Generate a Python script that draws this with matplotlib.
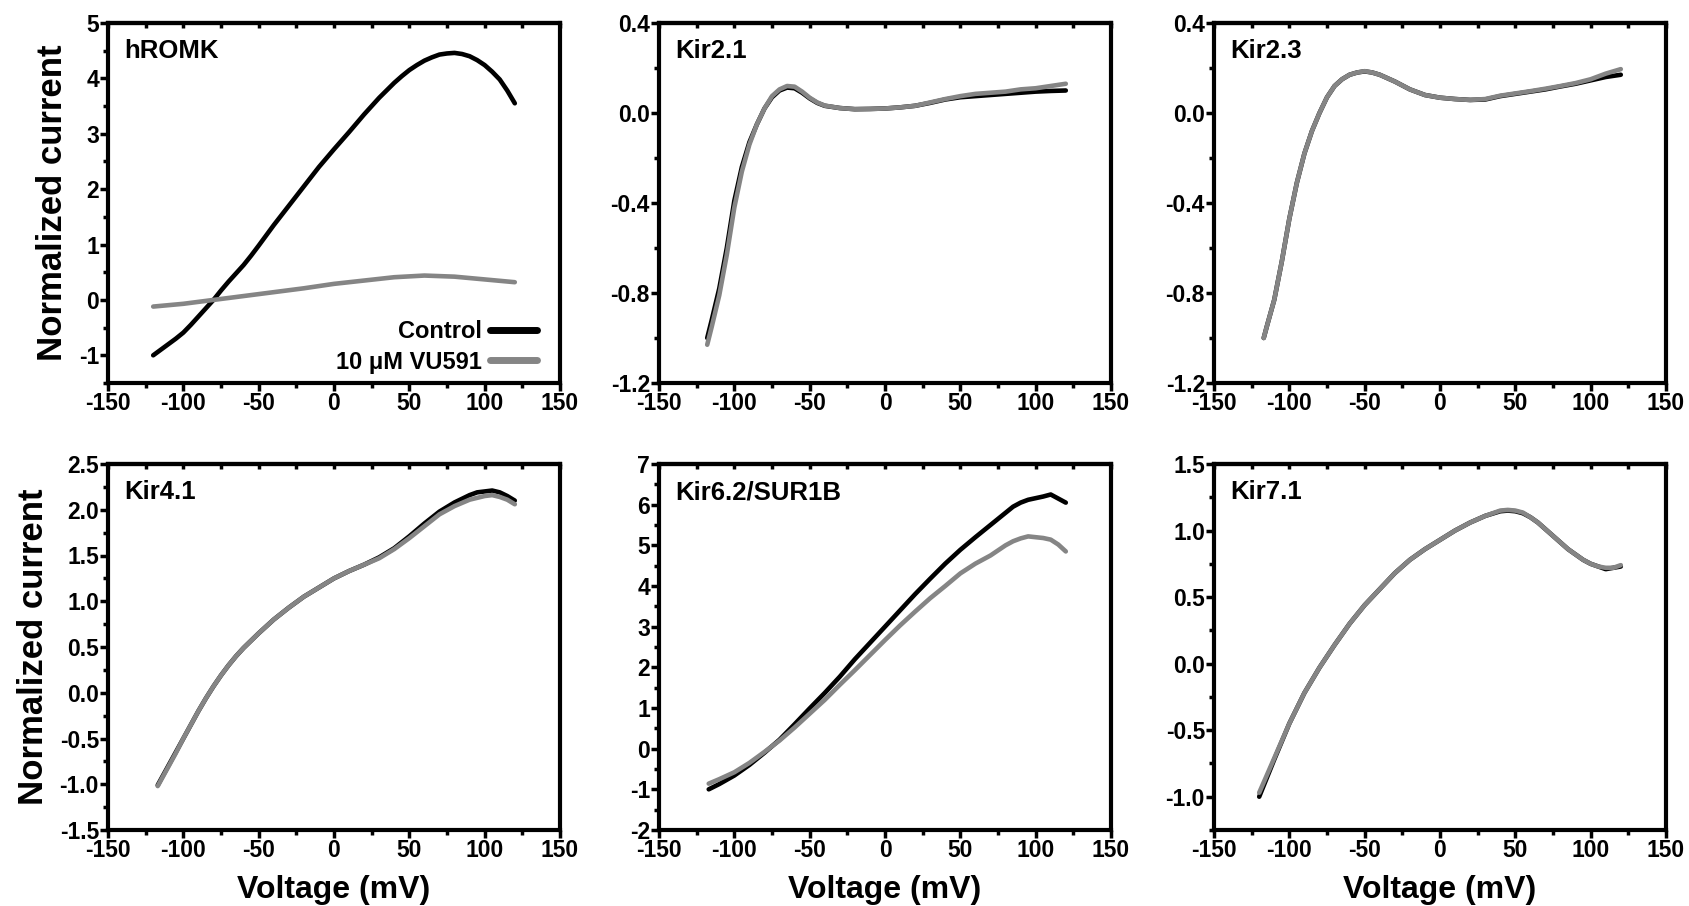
import matplotlib
matplotlib.use("Agg")
import matplotlib.pyplot as plt
from matplotlib.ticker import MultipleLocator

plt.rcParams["font.family"] = ["Liberation Sans", "DejaVu Sans"]
plt.rcParams["font.weight"] = "bold"
plt.rcParams["axes.unicode_minus"] = False

BLACK = "#000000"
GRAY = "#858585"

# hROMK
romk_v = [-120, -115, -110, -105, -100, -95, -90, -85, -80, -75, -70, -65, -60, -55, -50, -40, -30, -20, -10, 0, 10, 20, 30, 40, 45, 50, 55, 60, 65, 70, 75, 80, 85, 90, 95, 100, 105, 110, 115, 120]
romk_ctrl = [-1.0, -0.9, -0.8, -0.7, -0.59, -0.45, -0.3, -0.15, 0.0, 0.17, 0.33, 0.48, 0.63, 0.8, 0.98, 1.35, 1.7, 2.05, 2.4, 2.72, 3.03, 3.35, 3.65, 3.92, 4.04, 4.15, 4.24, 4.32, 4.38, 4.43, 4.45, 4.46, 4.44, 4.4, 4.33, 4.24, 4.12, 3.98, 3.78, 3.55]
romk_drug_v = [-120, -100, -80, -60, -40, -20, 0, 20, 40, 60, 80, 100, 120]
romk_drug = [-0.12, -0.07, 0.0, 0.07, 0.14, 0.21, 0.29, 0.35, 0.41, 0.44, 0.42, 0.37, 0.32]

# Kir2.1
k21_v = [-118, -115, -110, -105, -100, -95, -90, -85, -80, -75, -70, -65, -60, -55, -50, -45, -40, -30, -20, -10, 0, 10, 20, 30, 40, 50, 60, 70, 80, 90, 100, 110, 120]
k21_ctrl = [-1.0, -0.92, -0.78, -0.6, -0.39, -0.24, -0.13, -0.05, 0.02, 0.07, 0.1, 0.113, 0.11, 0.09, 0.065, 0.045, 0.032, 0.022, 0.017, 0.018, 0.02, 0.025, 0.032, 0.045, 0.06, 0.07, 0.075, 0.08, 0.085, 0.09, 0.095, 0.098, 0.1]
k21_drug = [-1.03, -0.95, -0.81, -0.63, -0.42, -0.26, -0.14, -0.05, 0.02, 0.075, 0.105, 0.12, 0.117, 0.095, 0.068, 0.047, 0.033, 0.022, 0.017, 0.018, 0.02, 0.025, 0.032, 0.047, 0.062, 0.075, 0.085, 0.09, 0.095, 0.105, 0.11, 0.12, 0.13]

# Kir2.3
k23_v = [-117, -115, -110, -105, -100, -95, -90, -85, -80, -75, -70, -65, -60, -55, -50, -45, -40, -30, -20, -10, 0, 10, 20, 30, 40, 50, 60, 70, 80, 90, 100, 110, 120]
k23_ctrl = [-1.0, -0.95, -0.83, -0.66, -0.47, -0.31, -0.18, -0.08, 0.0, 0.07, 0.12, 0.15, 0.17, 0.18, 0.185, 0.18, 0.17, 0.14, 0.105, 0.08, 0.068, 0.062, 0.058, 0.06, 0.075, 0.085, 0.095, 0.105, 0.118, 0.13, 0.145, 0.16, 0.17]
k23_drug = [-1.0, -0.95, -0.83, -0.66, -0.47, -0.31, -0.18, -0.08, 0.0, 0.07, 0.12, 0.15, 0.17, 0.18, 0.186, 0.18, 0.17, 0.14, 0.105, 0.08, 0.068, 0.062, 0.058, 0.062, 0.077, 0.087, 0.097, 0.108, 0.12, 0.133, 0.15, 0.175, 0.195]

# Kir4.1
k41_v = [-117, -110, -105, -100, -95, -90, -85, -80, -75, -70, -65, -60, -55, -50, -40, -30, -20, -10, 0, 10, 20, 30, 40, 50, 60, 70, 80, 90, 95, 100, 105, 110, 115, 120]
k41_ctrl = [-1.01, -0.8, -0.65, -0.5, -0.35, -0.2, -0.06, 0.07, 0.19, 0.3, 0.4, 0.49, 0.57, 0.65, 0.8, 0.93, 1.05, 1.15, 1.25, 1.33, 1.4, 1.48, 1.58, 1.71, 1.85, 1.98, 2.08, 2.16, 2.19, 2.2, 2.21, 2.19, 2.15, 2.1]
k41_drug = [-1.02, -0.81, -0.66, -0.5, -0.35, -0.2, -0.06, 0.07, 0.19, 0.3, 0.4, 0.49, 0.57, 0.65, 0.8, 0.93, 1.05, 1.15, 1.25, 1.33, 1.4, 1.47, 1.57, 1.69, 1.82, 1.95, 2.04, 2.11, 2.13, 2.15, 2.16, 2.14, 2.11, 2.06]

# Kir6.2/SUR1B
k62_v = [-117, -110, -100, -90, -80, -70, -60, -50, -40, -30, -20, -10, 0, 10, 20, 30, 40, 50, 60, 70, 80, 85, 90, 95, 100, 105, 110, 115, 120]
k62_ctrl = [-1.0, -0.87, -0.66, -0.4, -0.1, 0.22, 0.6, 0.99, 1.37, 1.77, 2.2, 2.6, 3.0, 3.4, 3.8, 4.18, 4.55, 4.89, 5.2, 5.5, 5.8, 5.95, 6.05, 6.12, 6.16, 6.2, 6.25, 6.15, 6.05]
k62_drug = [-0.86, -0.75, -0.58, -0.35, -0.08, 0.2, 0.52, 0.86, 1.2, 1.57, 1.93, 2.3, 2.67, 3.03, 3.37, 3.7, 4.0, 4.31, 4.55, 4.75, 5.0, 5.1, 5.17, 5.22, 5.2, 5.18, 5.14, 5.02, 4.85]

# Kir7.1
k71_v = [-120, -110, -100, -90, -80, -70, -60, -50, -40, -30, -20, -10, 0, 10, 20, 30, 40, 45, 50, 55, 60, 65, 70, 75, 80, 85, 90, 95, 100, 105, 110, 115, 120]
k71_ctrl = [-1.0, -0.72, -0.45, -0.22, -0.03, 0.14, 0.3, 0.44, 0.56, 0.68, 0.78, 0.86, 0.93, 1.0, 1.06, 1.11, 1.145, 1.15, 1.145, 1.13, 1.1, 1.06, 1.01, 0.96, 0.91, 0.86, 0.82, 0.78, 0.75, 0.73, 0.71, 0.72, 0.73]
k71_drug = [-0.97, -0.71, -0.45, -0.22, -0.03, 0.14, 0.3, 0.44, 0.56, 0.68, 0.78, 0.86, 0.93, 1.0, 1.06, 1.11, 1.15, 1.155, 1.15, 1.135, 1.1, 1.06, 1.01, 0.96, 0.91, 0.86, 0.82, 0.78, 0.75, 0.73, 0.72, 0.72, 0.74]

x_ticks = [-150, -100, -50, 0, 50, 100, 150]

panels = [
    ("hROMK", romk_v, romk_ctrl, romk_drug_v, romk_drug, (-1.5, 5), [-1, 0, 1, 2, 3, 4, 5], 0.5, "%d"),
    ("Kir2.1", k21_v, k21_ctrl, k21_v, k21_drug, (-1.2, 0.4), [-1.2, -0.8, -0.4, 0.0, 0.4], 0.2, "%.1f"),
    ("Kir2.3", k23_v, k23_ctrl, k23_v, k23_drug, (-1.2, 0.4), [-1.2, -0.8, -0.4, 0.0, 0.4], 0.2, "%.1f"),
    ("Kir4.1", k41_v, k41_ctrl, k41_v, k41_drug, (-1.5, 2.5), [-1.5, -1.0, -0.5, 0.0, 0.5, 1.0, 1.5, 2.0, 2.5], 0.25, "%.1f"),
    ("Kir6.2/SUR1B", k62_v, k62_ctrl, k62_v, k62_drug, (-2, 7), [-2, -1, 0, 1, 2, 3, 4, 5, 6, 7], 0.5, "%d"),
    ("Kir7.1", k71_v, k71_ctrl, k71_v, k71_drug, (-1.25, 1.5), [-1.0, -0.5, 0.0, 0.5, 1.0, 1.5], 0.25, "%.1f"),
]

W, H = 1689, 906
fig = plt.figure(figsize=(W / 100, H / 100), dpi=100)

col_left = [108, 659, 1214]
col_width = 452
row_top = [23, 464]
row_height = [360, 366]
tick_font = dict(fontsize=16.5, fontweight="bold", family="Liberation Sans")

for i, (name, xv, yc, xd, yd, ylim, yticks, minor, fmt) in enumerate(panels):
    r, c = divmod(i, 3)
    rect = [col_left[c] / W, 1 - (row_top[r] + row_height[r]) / H, col_width / W, row_height[r] / H]
    ax = fig.add_axes(rect)

    ax.plot(xv, yc, color=BLACK, lw=3.3, solid_capstyle="round", solid_joinstyle="round", label="Control")
    ax.plot(xd, yd, color=GRAY, lw=3.3, solid_capstyle="round", solid_joinstyle="round", label="10 \u03bcM VU591")

    ax.set_xlim(-150, 150)
    ax.set_ylim(*ylim)
    ax.set_xticks(x_ticks, labels=[str(t) for t in x_ticks], **tick_font)
    ax.xaxis.set_minor_locator(MultipleLocator(25))
    ax.set_yticks(yticks, labels=[fmt % t for t in yticks], **tick_font)
    ax.yaxis.set_minor_locator(MultipleLocator(minor))

    for s in ax.spines.values():
        s.set_linewidth(3)
    ax.tick_params(which="major", direction="out", length=5.5, width=2.5, pad=1)
    ax.tick_params(which="minor", direction="out", length=3.5, width=2.5)

    # small inward ticks along the top frame
    top = ax.secondary_xaxis("top")
    top.set_xticks([])
    top.xaxis.set_minor_locator(MultipleLocator(25))
    top.tick_params(which="minor", direction="in", length=3.5, width=2.5)
    top.spines["top"].set_linewidth(3)

    ax.text(0.035, 0.955, name, transform=ax.transAxes, ha="left", va="top",
            fontsize=18.5, fontweight="bold")

    if c == 0:
        ax.set_ylabel("Normalized current", fontsize=25, fontweight="bold", labelpad=7)
    if r == 1:
        ax.set_xlabel("Voltage (mV)", fontsize=23, fontweight="bold", labelpad=9)

    if i == 0:
        leg = ax.legend(loc="lower right", bbox_to_anchor=(0.97, 0.0), frameon=False,
                        markerfirst=False, prop=dict(size=17, weight="bold"),
                        handlelength=2.0, handletextpad=0.35, borderaxespad=0.0,
                        labelspacing=0.3)
        for ln in leg.get_lines():
            ln.set_linewidth(5)

fig.savefig("out.png", dpi=100)
